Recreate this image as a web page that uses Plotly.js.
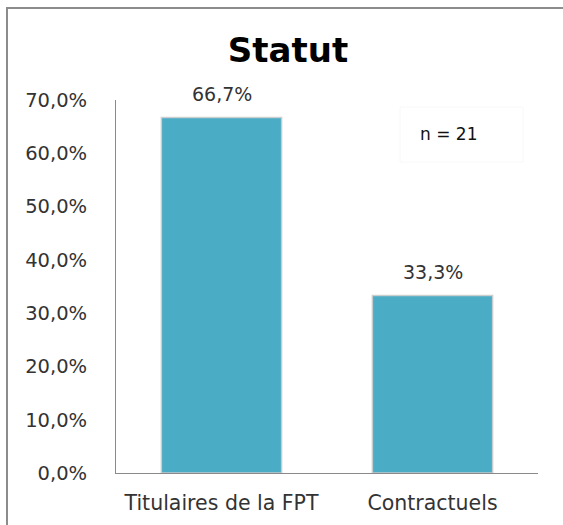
<!DOCTYPE html>
<html>
<head>
<meta charset="utf-8">
<script src="https://cdn.plot.ly/plotly-3.0.1.min.js"></script>
<style>
html, body { margin: 0; padding: 0; background: #ffffff; }
#chart { width: 563px; height: 525px; }
</style>
</head>
<body>
<div id="chart"></div>
<script>
var categories = ["Titulaires de la FPT", "Contractuels"];
var values = [66.7, 33.3];
var valueLabels = ["66,7%", "33,3%"];
var tickValues = [0, 10, 20, 30, 40, 50, 60, 70];
var tickLabels = ["0,0%", "10,0%", "20,0%", "30,0%", "40,0%", "50,0%", "60,0%", "70,0%"];
var chartTitle = "Statut";
var sampleNote = "n = 21";

var FONT = "DejaVu Sans, Verdana, sans-serif";

var trace = {
  type: "bar",
  x: categories,
  y: values,
  marker: {
    color: "#4BACC6",
    line: { color: "rgba(205,205,205,0.9)", width: 1.5 }
  },
  hoverinfo: "none"
};

var annotations = categories.map(function (c, i) {
  return {
    x: c, y: values[i], xref: "x", yref: "y",
    text: valueLabels[i], showarrow: false,
    yanchor: "bottom", yshift: 11,
    font: { family: FONT, size: 19, color: "#333333" }
  };
});
annotations.push({
  x: 0.787, y: 0.909, xref: "paper", yref: "paper",
  text: sampleNote, showarrow: false,
  xanchor: "center", yanchor: "middle",
  font: { family: FONT, size: 17, color: "#111111" }
});

var layout = {
  width: 563,
  height: 525,
  margin: { l: 116, r: 25, t: 100, b: 52 },
  paper_bgcolor: "#ffffff",
  plot_bgcolor: "#ffffff",
  showlegend: false,
  bargap: 0.43,
  title: {
    text: "<b>" + chartTitle + "</b>",
    x: 288 / 563, xref: "container", xanchor: "center",
    y: 1 - 50 / 525, yref: "container", yanchor: "middle",
    font: { family: FONT, size: 34, color: "#000000" }
  },
  xaxis: {
    type: "category",
    showline: true, linecolor: "#8a8a8a", linewidth: 1,
    showgrid: false, zeroline: false, ticks: "",
    ticklabelstandoff: 11,
    tickfont: { family: FONT, size: 20.5, color: "#333333" }
  },
  yaxis: {
    range: [0, 70],
    tickvals: tickValues, ticktext: tickLabels,
    showline: true, linecolor: "#8a8a8a", linewidth: 1,
    showgrid: false, zeroline: false, ticks: "",
    ticklabelstandoff: 24,
    tickfont: { family: FONT, size: 19.5, color: "#333333" }
  },
  annotations: annotations,
  shapes: [
    {
      type: "rect", xref: "paper", yref: "paper",
      x0: (400 - 116) / 422, x1: (523 - 116) / 422,
      y0: (473 - 162) / 373, y1: (473 - 107) / 373,
      line: { color: "#f8f8f8", width: 1 }, fillcolor: "rgba(0,0,0,0)", layer: "below"
    },
    {
      type: "line", xref: "paper", yref: "paper",
      x0: (7 - 116) / 422, x1: (7 - 116) / 422,
      y0: (473 - 7) / 373, y1: -1,
      line: { color: "#8c8c8c", width: 2 }
    },
    {
      type: "line", xref: "paper", yref: "paper",
      x0: (7 - 116) / 422, x1: 2,
      y0: (473 - 8) / 373, y1: (473 - 8) / 373,
      line: { color: "#8c8c8c", width: 2 }
    }
  ]
};

Plotly.newPlot("chart", [trace], layout, { staticPlot: true, displayModeBar: false });
</script>
</body>
</html>
